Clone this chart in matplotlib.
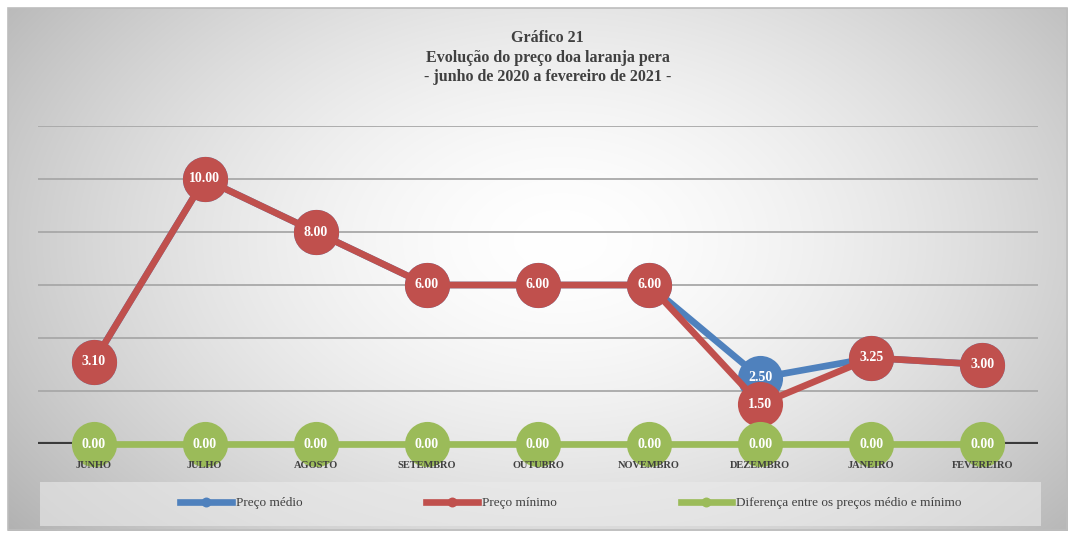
import numpy as np
import matplotlib
matplotlib.use("Agg")
import matplotlib.pyplot as plt
from matplotlib.patches import Rectangle

# dados
meses = ["JUNHO", "JULHO", "AGOSTO", "SETEMBRO", "OUTUBRO",
         "NOVEMBRO", "DEZEMBRO", "JANEIRO", "FEVEREIRO"]
preco_medio = [3.10, 10.00, 8.00, 6.00, 6.00, 6.00, 2.50, 3.25, 3.00]
preco_minimo = [3.10, 10.00, 8.00, 6.00, 6.00, 6.00, 1.50, 3.25, 3.00]
diferenca = [0.00, 0.00, 0.00, 0.00, 0.00, 0.00, 0.00, 0.00, 0.00]

titulo = "Gráfico 21\nEvolução do preço doa laranja pera\n- junho de 2020 a fevereiro de 2021 -"
nomes = ["Preço médio", "Preço mínimo", "Diferença entre os preços médio e mínimo"]
cores = ["#4f81bd", "#c0504d", "#9bbb59"]

fonte = "Liberation Serif"
W, H = 1072, 533
fig = plt.figure(figsize=(W / 100, H / 100), dpi=100)

# fundo com gradiente radial
bg = fig.add_axes([0, 0, 1, 1], zorder=-2)
yy, xx = np.mgrid[0:H, 0:W]
r = np.sqrt(((xx - 560) / 640.0) ** 2 + ((yy - 240) / 420.0) ** 2)
g = 255 - 66 * np.clip(r, 0, 1.1) ** 1.6
g = g / 255.0
img = np.ones((H, W, 3))
dentro = (xx >= 8) & (xx <= 1067) & (yy >= 8) & (yy <= 530)
for c in range(3):
    canal = img[:, :, c]
    canal[dentro] = g[dentro]
bg.imshow(img, extent=[0, W, H, 0], aspect="auto", interpolation="bilinear")
bg.add_patch(Rectangle((8, 8), 1059, 522, fill=False, edgecolor="#bdbdbd", lw=1.2))
# caixa da legenda
bg.add_patch(Rectangle((40, 482), 1001, 44, facecolor="#ebebeb", alpha=0.6, edgecolor="none"))
bg.set_xlim(0, W)
bg.set_ylim(H, 0)
bg.axis("off")

# area do grafico
ax = fig.add_axes([38 / W, (H - 444) / H, 1000 / W, 318 / H])
ax.patch.set_alpha(0)
x = np.arange(len(meses))
ax.set_xlim(-0.5, len(meses) - 0.5)
ax.set_ylim(0, 12)

for v in [2, 4, 6, 8, 10, 12]:
    ax.axhline(v, color="#a8a8a8", lw=1.3, zorder=1)
ax.axhline(0, color="#3a3a3a", lw=3, zorder=1.5)

series = [preco_medio, preco_minimo, diferenca]
handles = []
for i, (vals, cor, nome) in enumerate(zip(series, cores, nomes)):
    z = 3 + i
    h, = ax.plot(x, vals, color=cor, lw=4.8, marker="o", markersize=32.5,
                 markeredgewidth=0, label=nome, zorder=z, clip_on=False)
    handles.append(h)
    for xi, v in zip(x, vals):
        ax.text(xi, v, "%.2f" % v, ha="center", va="center", color="white",
                fontsize=10, fontweight="bold", family=fonte, zorder=z + 0.5)

ax.set_xticks(x)
ax.set_xticklabels(meses, fontsize=7.5, fontweight="bold", family=fonte, color="#404040")
ax.tick_params(axis="x", length=0, pad=12)
ax.xaxis.set_zorder(10)
ax.set_yticks([])
for s in ax.spines.values():
    s.set_visible(False)

fig.text(0.511, 1 - 30 / H, titulo, ha="center", va="top", fontsize=11.5,
         fontweight="bold", family=fonte, color="#404040", linespacing=1.3)

leg = fig.legend(handles=handles, loc="center", bbox_to_anchor=(571 / W, 1 - 503 / H),
                 ncol=3, frameon=False, markerscale=0.22, handlelength=3.9,
                 columnspacing=9.4, handletextpad=0.3,
                 prop={"family": fonte, "size": 9.5})
for t in leg.get_texts():
    t.set_color("#404040")

fig.savefig("out.png", dpi=100)
